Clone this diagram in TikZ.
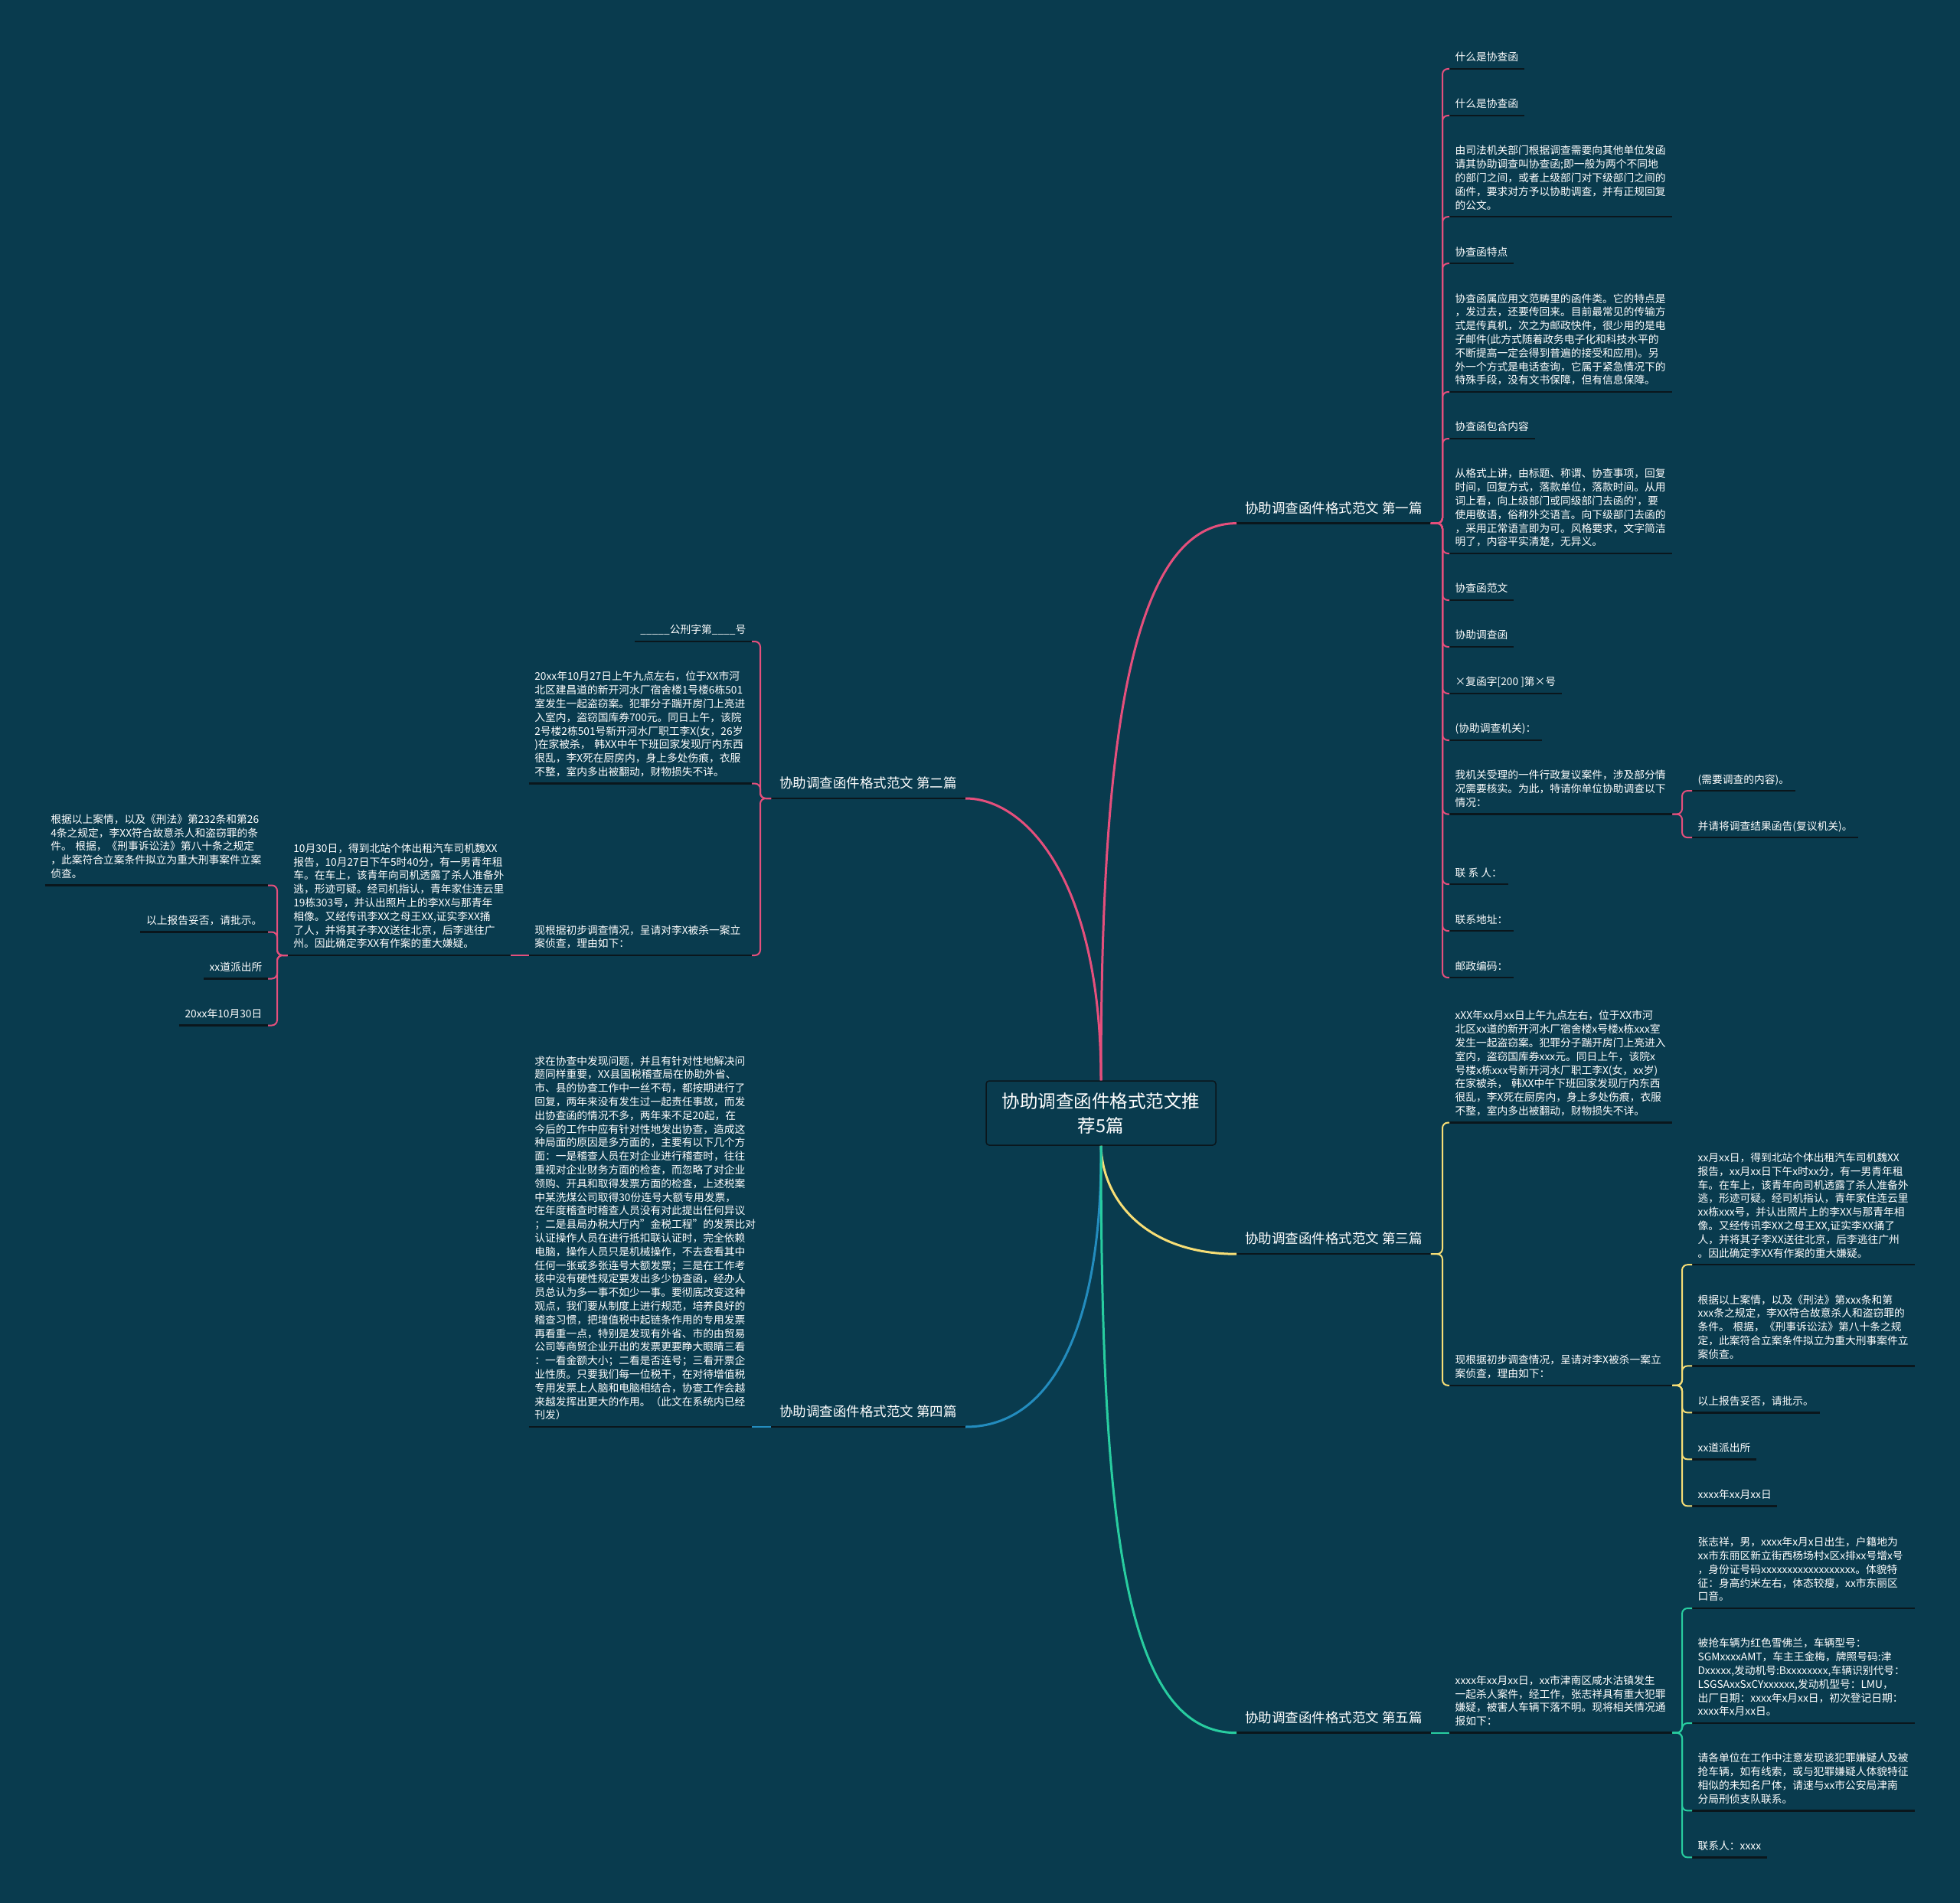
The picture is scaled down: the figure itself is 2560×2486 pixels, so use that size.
\documentclass[tikz,border=0pt]{standalone}
\usepackage{fontspec}
\setmainfont{Noto Sans CJK SC}
\definecolor{bgcol}{RGB}{9,59,78}
\definecolor{ulcol}{RGB}{10,22,28}
\definecolor{pinkc}{RGB}{229,79,124}
\definecolor{yelc}{RGB}{247,222,118}
\definecolor{bluc}{RGB}{35,140,190}
\definecolor{grnc}{RGB}{40,205,160}
\tikzset{
  uline/.style={append after command={(\tikzlastnode.south west) edge[draw=ulcol, line width=2.5pt] (\tikzlastnode.south east)}},
  root/.style={draw=ulcol, line width=1.5pt, fill=bgcol, rounded corners=4pt, text=white,
    font=\fontsize{23.5}{32}\selectfont, align=center, text width=260pt,
    minimum width=300pt, minimum height=84pt},
  pian/.style={text=white, font=\fontsize{17.5}{22}\selectfont, inner xsep=11pt,
    inner ysep=6.75pt, execute at end node=\strut, uline},
  leaf/.style={text=white, font=\fontsize{13.75}{17.8}\selectfont, inner xsep=7.5pt,
    inner ysep=4.5pt, execute at end node=\strut, uline},
  para/.style={leaf, text width=276pt, align=left},
  link/.style={line width=3pt},
  sublink/.style={line width=2pt, rounded corners=7pt},
}
\begin{document}
\begin{tikzpicture}[x=1pt, y=-1pt]
\fill[bgcol] (0,0) rectangle (2560,2486);
% centre
\node[root] (root) at (1438,1454) {协助调查函件格式范文推\\荐5篇};
% five branches
\node[pian, anchor=south west] (p1) at (1615,683.6) {协助调查函件格式范文 第一篇};
\node[pian, anchor=south east] (p2) at (1261,1043) {协助调查函件格式范文 第二篇};
\node[pian, anchor=south west] (p3) at (1615,1638.2) {协助调查函件格式范文 第三篇};
\node[pian, anchor=south east] (p4) at (1261,1864) {协助调查函件格式范文 第四篇};
\node[pian, anchor=south west] (p5) at (1615,2263.7) {协助调查函件格式范文 第五篇};
% first
\begin{scope}[every node/.append style={anchor=south west}]
\node[leaf] (p1-1) at (1893,90) {什么是协查函};
\node[leaf] (p1-2) at (1893,151) {什么是协查函};
\node[para] (p1-3) at (1893,283.2) {由司法机关部门根据调查需要向其他单位发函\\请其协助调查叫协查函;即一般为两个不同地\\的部门之间，或者上级部门对下级部门之间的\\函件，要求对方予以协助调查，并有正规回复\\的公文。};
\node[leaf] (p1-4) at (1893,344.2) {协查函特点};
\node[para] (p1-5) at (1893,512) {协查函属应用文范畴里的函件类。它的特点是\\，发过去，还要传回来。目前最常见的传输方\\式是传真机，次之为邮政快件，很少用的是电\\子邮件(此方式随着政务电子化和科技水平的\\不断提高一定会得到普遍的接受和应用)。另\\外一个方式是电话查询，它属于紧急情况下的\\特殊手段，没有文书保障，但有信息保障。};
\node[leaf] (p1-6) at (1893,573) {协查函包含内容};
\node[para] (p1-7) at (1893,723) {从格式上讲，由标题、称谓、协查事项，回复\\时间，回复方式，落款单位，落款时间。从用\\词上看，向上级部门或同级部门去函的\textquotesingle，要\\使用敬语，俗称外交语言。向下级部门去函的\\，采用正常语言即为可。风格要求，文字简洁\\明了，内容平实清楚，无异义。};
\node[leaf] (p1-8) at (1893,784) {协查函范文};
\node[leaf] (p1-9) at (1893,845) {协助调查函};
\node[leaf] (p1-10) at (1893,906) {×复函字[200 ]第×号};
\node[leaf] (p1-11) at (1893,967) {(协助调查机关)：};
\node[para] (p1-12) at (1893,1063.6) {我机关受理的一件行政复议案件，涉及部分情\\况需要核实。为此，特请你单位协助调查以下\\情况：};
\node[leaf] (p1-12-1) at (2210,1033.1) {(需要调查的内容)。};
\node[leaf] (p1-12-2) at (2210,1094.1) {并请将调查结果函告(复议机关)。};
\node[leaf] (p1-13) at (1893,1155.1) {联 系 人：};
\node[leaf] (p1-14) at (1893,1216.1) {联系地址：};
\node[leaf] (p1-15) at (1893,1277.1) {邮政编码：};
% third
\node[para] (p3-1) at (1893,1466.6) {xXX年xx月xx日上午九点左右，位于XX市河\\北区xx道的新开河水厂宿舍楼x号楼x栋xxx室\\发生一起盗窃案。犯罪分子踹开房门上亮进入\\室内，盗窃国库券xxx元。同日上午，该院x\\号楼x栋xxx号新开河水厂职工李X(女，xx岁)\\在家被杀， 韩XX中午下班回家发现厅内东西\\很乱，李X死在厨房内，身上多处伤痕，衣服\\不整，室内多出被翻动，财物损失不详。};
\node[para] (p3-2) at (1893,1809.8) {现根据初步调查情况，呈请对李X被杀一案立\\案侦查，理由如下：};
\node[para] (p3-2-1) at (2210,1652.2) {xx月xx日，得到北站个体出租汽车司机魏XX\\报告，xx月xx日下午x时xx分，有一男青年租\\车。在车上，该青年向司机透露了杀人准备外\\逃，形迹可疑。经司机指认，青年家住连云里\\xx栋xxx号，并认出照片上的李XX与那青年相\\像。又经传讯李XX之母王XX,证实李XX捅了\\人，并将其子李XX送往北京，后李逃往广州\\。因此确定李XX有作案的重大嫌疑。};
\node[para] (p3-2-2) at (2210,1784.4) {根据以上案情，以及《刑法》第xxx条和第\\xxx条之规定，李XX符合故意杀人和盗窃罪的\\条件。 根据，《刑事诉讼法》第八十条之规\\定，此案符合立案条件拟立为重大刑事案件立\\案侦查。};
\node[leaf] (p3-2-3) at (2210,1845.4) {以上报告妥否，请批示。};
\node[leaf] (p3-2-4) at (2210,1906.4) {xx道派出所};
\node[leaf] (p3-2-5) at (2210,1967.4) {xxxx年xx月xx日};
% fifth
\node[para] (p5-1) at (1893,2263.7) {xxxx年xx月xx日，xx市津南区咸水沽镇发生\\一起杀人案件，经工作，张志祥具有重大犯罪\\嫌疑，被害人车辆下落不明。现将相关情况通\\报如下：};
\node[para] (p5-1-1) at (2210,2101) {张志祥，男，xxxx年x月x日出生，户籍地为\\xx市东丽区新立街西杨场村x区x排xx号增x号\\，身份证号码xxxxxxxxxxxxxxxxxx。体貌特\\征：身高约米左右，体态较瘦，xx市东丽区\\口音。};
\node[para] (p5-1-2) at (2210,2251) {被抢车辆为红色雪佛兰，车辆型号：\\SGMxxxxAMT，车主王金梅，牌照号码:津\\Dxxxxx,发动机号:Bxxxxxxxx,车辆识别代号：\\LSGSAxxSxCYxxxxxx,发动机型号：LMU，\\出厂日期：xxxx年x月xx日，初次登记日期：\\xxxx年x月xx日。};
\node[para] (p5-1-3) at (2210,2365.4) {请各单位在工作中注意发现该犯罪嫌疑人及被\\抢车辆，如有线索，或与犯罪嫌疑人体貌特征\\相似的未知名尸体，请速与xx市公安局津南\\分局刑侦支队联系。};
\node[leaf] (p5-1-4) at (2210,2426.4) {联系人：xxxx};
\end{scope}
% second and fourth, to the left
\begin{scope}[every node/.append style={anchor=south east}]
\node[leaf] (p2-1) at (982,838) {\_\_\_\_\_公刑字第\_\_\_\_号};
\node[para] (p2-2) at (982,1023.6) {20xx年10月27日上午九点左右，位于XX市河\\北区建昌道的新开河水厂宿舍楼1号楼6栋501\\室发生一起盗窃案。犯罪分子踹开房门上亮进\\入室内，盗窃国库券700元。同日上午，该院\\2号楼2栋501号新开河水厂职工李X(女，26岁\\)在家被杀， 韩XX中午下班回家发现厅内东西\\很乱，李X死在厨房内，身上多处伤痕，衣服\\不整，室内多出被翻动，财物损失不详。};
\node[para] (p2-3) at (982,1248) {现根据初步调查情况，呈请对李X被杀一案立\\案侦查，理由如下：};
\node[para] (p2-3-1) at (667,1248) {10月30日，得到北站个体出租汽车司机魏XX\\报告，10月27日下午5时40分，有一男青年租\\车。在车上，该青年向司机透露了杀人准备外\\逃，形迹可疑。经司机指认，青年家住连云里\\19栋303号，并认出照片上的李XX与那青年\\相像。又经传讯李XX之母王XX,证实李XX捅\\了人，并将其子李XX送往北京，后李逃往广\\州。因此确定李XX有作案的重大嫌疑。};
\node[para] (p2-3-1-1) at (350,1156.5) {根据以上案情，以及《刑法》第232条和第26\\4条之规定，李XX符合故意杀人和盗窃罪的条\\件。 根据，《刑事诉讼法》第八十条之规定\\，此案符合立案条件拟立为重大刑事案件立案\\侦查。};
\node[leaf] (p2-3-1-2) at (350,1217.5) {以上报告妥否，请批示。};
\node[leaf] (p2-3-1-3) at (350,1278.5) {xx道派出所};
\node[leaf] (p2-3-1-4) at (350,1339.5) {20xx年10月30日};
\node[para] (p4-1) at (982,1864) {求在协查中发现问题，并且有针对性地解决问\\题同样重要，XX县国税稽查局在协助外省、\\市、县的协查工作中一丝不苟，都按期进行了\\回复，两年来没有发生过一起责任事故，而发\\出协查函的情况不多，两年来不足20起，在\\今后的工作中应有针对性地发出协查，造成这\\种局面的原因是多方面的，主要有以下几个方\\面：一是稽查人员在对企业进行稽查时，往往\\重视对企业财务方面的检查，而忽略了对企业\\领购、开具和取得发票方面的检查，上述税案\\中某洗煤公司取得30份连号大额专用发票，\\在年度稽查时稽查人员没有对此提出任何异议\\；二是县局办税大厅内"金税工程"的发票比对\\认证操作人员在进行抵扣联认证时，完全依赖\\电脑，操作人员只是机械操作，不去查看其中\\任何一张或多张连号大额发票；三是在工作考\\核中没有硬性规定要发出多少协查函，经办人\\员总认为多一事不如少一事。要彻底改变这种\\观点，我们要从制度上进行规范，培养良好的\\稽查习惯，把增值税中起链条作用的专用发票\\再看重一点，特别是发现有外省、市的由贸易\\公司等商贸企业开出的发票更要睁大眼睛三看\\：一看金额大小；二看是否连号；三看开票企\\业性质。只要我们每一位税干，在对待增值税\\专用发票上人脑和电脑相结合，协查工作会越\\来越发挥出更大的作用。（此文在系统内已经\\刊发）};
\end{scope}
% root connectors
\draw[link, draw=pinkc] (root.north) .. controls +(0,-412) and +(-145,0) .. (p1.south west);
\draw[link, draw=pinkc] (root.north) .. controls +(0,-262) and +(79,0) .. (p2.south east);
\draw[link, draw=yelc] (root.south) .. controls +(2,74) and +(-115,0) .. (p3.south west);
\draw[link, draw=bluc] (root.south) .. controls +(2,224) and +(119,0) .. (p4.south east);
\draw[link, draw=grnc] (root.south) .. controls +(0,504) and +(-145,0) .. (p5.south west);
% brackets
\foreach \i in {1,...,15}
  \draw[sublink, draw=pinkc] (p1-\i.south west) -- ++(-9,0) |- (p1.south east);
\foreach \i in {1,2}
  \draw[sublink, draw=pinkc] (p1-12-\i.south west) -- ++(-13,0) |- (p1-12.south east);
\foreach \i in {1,2,3}
  \draw[sublink, draw=pinkc] (p2-\i.south east) -- ++(11,0) |- (p2.south west);
\draw[sublink, draw=pinkc] (p2-3.south west) -- (p2-3-1.south east);
\foreach \i in {1,...,4}
  \draw[sublink, draw=pinkc] (p2-3-1-\i.south east) -- ++(12,0) |- (p2-3-1.south west);
\foreach \i in {1,2}
  \draw[sublink, draw=yelc] (p3-\i.south west) -- ++(-9,0) |- (p3.south east);
\foreach \i in {1,...,5}
  \draw[sublink, draw=yelc] (p3-2-\i.south west) -- ++(-13,0) |- (p3-2.south east);
\draw[sublink, draw=bluc] (p4.south west) -- (p4-1.south east);
\draw[sublink, draw=grnc] (p5.south east) -- (p5-1.south west);
\foreach \i in {1,...,4}
  \draw[sublink, draw=grnc] (p5-1-\i.south west) -- ++(-13,0) |- (p5-1.south east);
\end{tikzpicture}
\end{document}
